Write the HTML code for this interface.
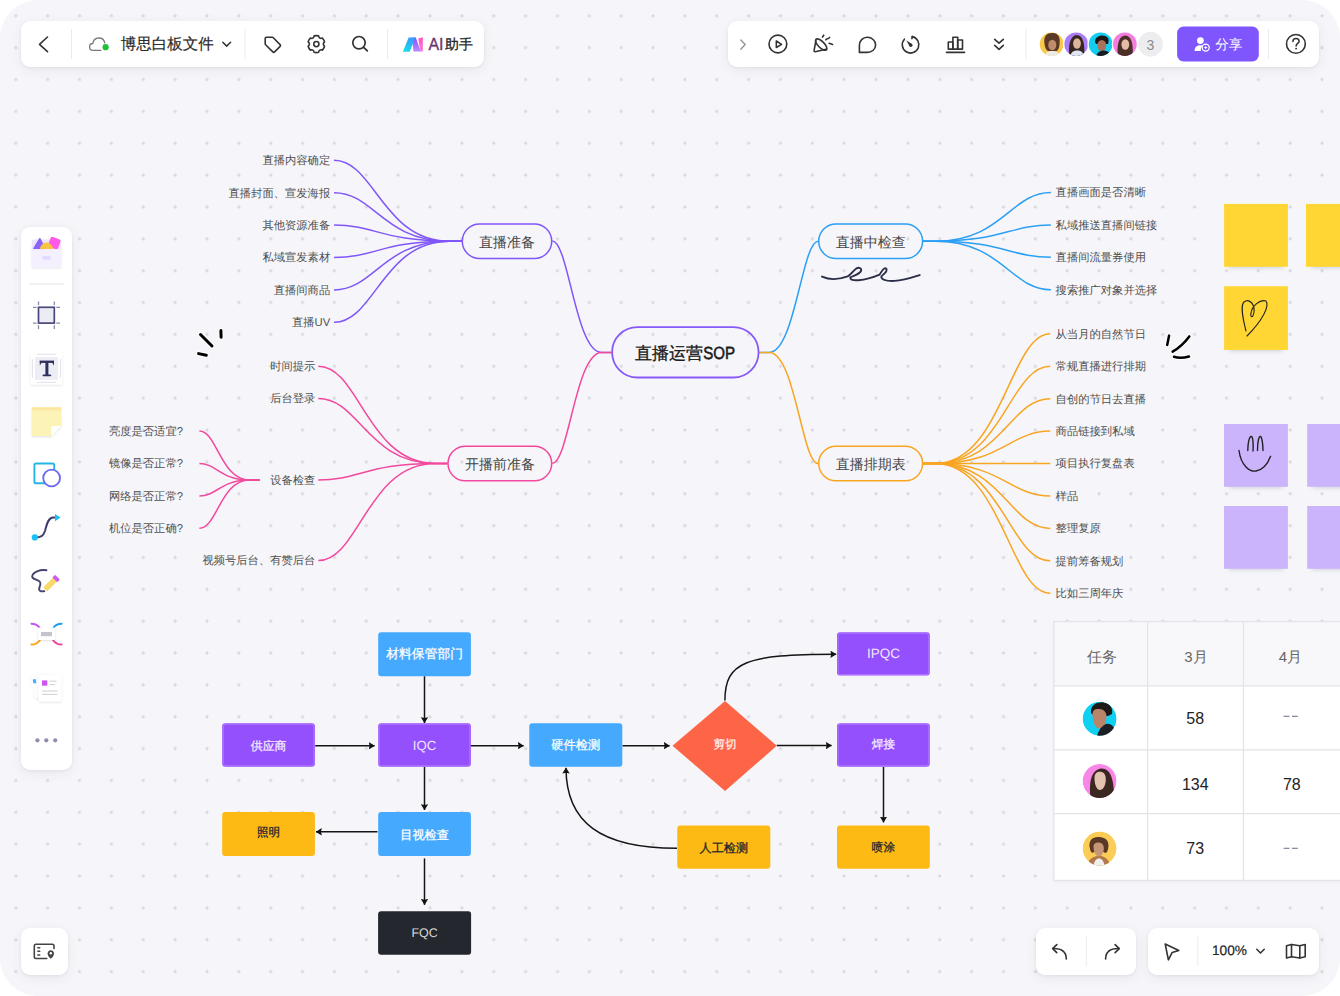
<!DOCTYPE html>
<html><head><meta charset="utf-8">
<style>
*{box-sizing:border-box;margin:0;padding:0}
html,body{width:1340px;height:996px;overflow:hidden;background:#ffffff;font-family:"Liberation Sans",sans-serif}
#win{position:absolute;left:0;top:0;width:1340px;height:996px;border-radius:38px;overflow:hidden;
 background-color:#f6f6fa;
 background-image:radial-gradient(circle at center,#d8d8dd 0,#d8d8dd 1.15px,rgba(216,216,221,0) 1.95px);
 background-size:31.87px 31.87px;background-position:-0.1px -0.1px}
.cv{position:absolute;left:0;top:0;font-family:"Liberation Sans",sans-serif}
.bar{position:absolute;background:#fff;border-radius:9px;box-shadow:0 1px 3px rgba(30,30,60,0.06),0 3px 12px rgba(30,30,60,0.07)}
.ic{position:absolute}
.dv{position:absolute;width:1px;background:#e9e9ee}
.t{position:absolute;white-space:nowrap;line-height:1}
</style></head><body>
<div id="win">
<svg class="cv" text-rendering="geometricPrecision" width="1340" height="996" viewBox="0 0 1340 996"><defs>
<marker id="ah" viewBox="0 0 6 7.4" refX="5.8" refY="3.7" markerWidth="6" markerHeight="7.4" markerUnits="userSpaceOnUse" orient="auto"><path d="M0,0 L6,3.7 L0,7.4 L0.8,3.7 Z" fill="#111"/></marker>
<filter id="sb" x="-30%" y="-100%" width="160%" height="300%"><feGaussianBlur stdDeviation="2.6"/></filter>
<filter id="sh" x="-20%" y="-20%" width="140%" height="150%"><feDropShadow dx="0" dy="3" stdDeviation="3" flood-color="#000" flood-opacity="0.10"/></filter>
</defs><path d="M461.6,241.2 L449.6,241.2 C382.6,241.2 374.5,160.3 334.0,160.3" stroke="#8056f7" stroke-width="1.5" fill="none" />
<text x="330.2" y="161.1" font-size="11.3" fill="#4f4f4f" text-anchor="end" font-weight="400" dominant-baseline="central" >直播内容确定</text>
<path d="M461.6,241.2 L449.6,241.2 C382.6,241.2 374.5,192.7 334.0,192.7" stroke="#8056f7" stroke-width="1.5" fill="none" />
<text x="330.2" y="193.5" font-size="11.3" fill="#4f4f4f" text-anchor="end" font-weight="400" dominant-baseline="central" >直播封面、宣发海报</text>
<path d="M461.6,241.2 L449.6,241.2 C382.6,241.2 374.5,225.1 334.0,225.1" stroke="#8056f7" stroke-width="1.5" fill="none" />
<text x="330.2" y="225.9" font-size="11.3" fill="#4f4f4f" text-anchor="end" font-weight="400" dominant-baseline="central" >其他资源准备</text>
<path d="M461.6,241.2 L449.6,241.2 C382.6,241.2 374.5,257.5 334.0,257.5" stroke="#8056f7" stroke-width="1.5" fill="none" />
<text x="330.2" y="258.3" font-size="11.3" fill="#4f4f4f" text-anchor="end" font-weight="400" dominant-baseline="central" >私域宣发素材</text>
<path d="M461.6,241.2 L449.6,241.2 C382.6,241.2 374.5,289.9 334.0,289.9" stroke="#8056f7" stroke-width="1.5" fill="none" />
<text x="330.2" y="290.7" font-size="11.3" fill="#4f4f4f" text-anchor="end" font-weight="400" dominant-baseline="central" >直播间商品</text>
<path d="M461.6,241.2 L449.6,241.2 C382.6,241.2 374.5,322.3 334.0,322.3" stroke="#8056f7" stroke-width="1.5" fill="none" />
<text x="330.2" y="323.1" font-size="11.3" fill="#4f4f4f" text-anchor="end" font-weight="400" dominant-baseline="central" >直播UV</text>
<path d="M447.3,463.4 L435.3,463.4 C367.4,463.4 359.2,366.2 318.3,366.2" stroke="#f2489d" stroke-width="1.5" fill="none" />
<text x="315.4" y="367.0" font-size="11.3" fill="#4f4f4f" text-anchor="end" font-weight="400" dominant-baseline="central" >时间提示</text>
<path d="M447.3,463.4 L435.3,463.4 C367.4,463.4 359.2,398.5 318.3,398.5" stroke="#f2489d" stroke-width="1.5" fill="none" />
<text x="315.4" y="399.3" font-size="11.3" fill="#4f4f4f" text-anchor="end" font-weight="400" dominant-baseline="central" >后台登录</text>
<path d="M447.3,463.4 L435.3,463.4 C367.4,463.4 359.2,480.0 318.3,480.0" stroke="#f2489d" stroke-width="1.5" fill="none" />
<text x="315.4" y="480.8" font-size="11.3" fill="#4f4f4f" text-anchor="end" font-weight="400" dominant-baseline="central" >设备检查</text>
<path d="M447.3,463.4 L435.3,463.4 C367.4,463.4 359.2,560.6 318.3,560.6" stroke="#f2489d" stroke-width="1.5" fill="none" />
<text x="315.4" y="561.4" font-size="11.3" fill="#4f4f4f" text-anchor="end" font-weight="400" dominant-baseline="central" >视频号后台、有赞后台</text>
<path d="M259.6,480.0 L249.6,480.0 C220.5,480.0 217.0,431.0 199.4,431.0" stroke="#f2489d" stroke-width="1.5" fill="none" />
<text x="183.0" y="431.8" font-size="11.3" fill="#4f4f4f" text-anchor="end" font-weight="400" dominant-baseline="central" >亮度是否适宜?</text>
<path d="M259.6,480.0 L249.6,480.0 C220.5,480.0 217.0,463.6 199.4,463.6" stroke="#f2489d" stroke-width="1.5" fill="none" />
<text x="183.0" y="464.4" font-size="11.3" fill="#4f4f4f" text-anchor="end" font-weight="400" dominant-baseline="central" >镜像是否正常?</text>
<path d="M259.6,480.0 L249.6,480.0 C220.5,480.0 217.0,496.0 199.4,496.0" stroke="#f2489d" stroke-width="1.5" fill="none" />
<text x="183.0" y="496.8" font-size="11.3" fill="#4f4f4f" text-anchor="end" font-weight="400" dominant-baseline="central" >网络是否正常?</text>
<path d="M259.6,480.0 L249.6,480.0 C220.5,480.0 217.0,528.3 199.4,528.3" stroke="#f2489d" stroke-width="1.5" fill="none" />
<text x="183.0" y="529.1" font-size="11.3" fill="#4f4f4f" text-anchor="end" font-weight="400" dominant-baseline="central" >机位是否正确?</text>
<path d="M923.3,241.2 L935.3,241.2 C1002.3,241.2 1010.4,192.5 1050.9,192.5" stroke="#2b9ff3" stroke-width="1.5" fill="none" />
<text x="1055.6" y="193.3" font-size="11.3" fill="#4f4f4f" text-anchor="start" font-weight="400" dominant-baseline="central" >直播画面是否清晰</text>
<path d="M923.3,241.2 L935.3,241.2 C1002.3,241.2 1010.4,225.0 1050.9,225.0" stroke="#2b9ff3" stroke-width="1.5" fill="none" />
<text x="1055.6" y="225.8" font-size="11.3" fill="#4f4f4f" text-anchor="start" font-weight="400" dominant-baseline="central" >私域推送直播间链接</text>
<path d="M923.3,241.2 L935.3,241.2 C1002.3,241.2 1010.4,257.3 1050.9,257.3" stroke="#2b9ff3" stroke-width="1.5" fill="none" />
<text x="1055.6" y="258.1" font-size="11.3" fill="#4f4f4f" text-anchor="start" font-weight="400" dominant-baseline="central" >直播间流量券使用</text>
<path d="M923.3,241.2 L935.3,241.2 C1002.3,241.2 1010.4,289.7 1050.9,289.7" stroke="#2b9ff3" stroke-width="1.5" fill="none" />
<text x="1055.6" y="290.5" font-size="11.3" fill="#4f4f4f" text-anchor="start" font-weight="400" dominant-baseline="central" >搜索推广对象并选择</text>
<path d="M923.3,463.6 L935.3,463.6 C1002.0,463.6 1010.0,333.8 1050.3,333.8" stroke="#f8a522" stroke-width="1.5" fill="none" />
<text x="1055.6" y="334.6" font-size="11.3" fill="#4f4f4f" text-anchor="start" font-weight="400" dominant-baseline="central" >从当月的自然节日</text>
<path d="M923.3,463.6 L935.3,463.6 C1002.0,463.6 1010.0,366.2 1050.3,366.2" stroke="#f8a522" stroke-width="1.5" fill="none" />
<text x="1055.6" y="367.0" font-size="11.3" fill="#4f4f4f" text-anchor="start" font-weight="400" dominant-baseline="central" >常规直播进行排期</text>
<path d="M923.3,463.6 L935.3,463.6 C1002.0,463.6 1010.0,398.7 1050.3,398.7" stroke="#f8a522" stroke-width="1.5" fill="none" />
<text x="1055.6" y="399.5" font-size="11.3" fill="#4f4f4f" text-anchor="start" font-weight="400" dominant-baseline="central" >自创的节日去直播</text>
<path d="M923.3,463.6 L935.3,463.6 C1002.0,463.6 1010.0,431.1 1050.3,431.1" stroke="#f8a522" stroke-width="1.5" fill="none" />
<text x="1055.6" y="431.9" font-size="11.3" fill="#4f4f4f" text-anchor="start" font-weight="400" dominant-baseline="central" >商品链接到私域</text>
<path d="M923.3,463.6 L935.3,463.6 C1002.0,463.6 1010.0,463.5 1050.3,463.5" stroke="#f8a522" stroke-width="1.5" fill="none" />
<text x="1055.6" y="464.3" font-size="11.3" fill="#4f4f4f" text-anchor="start" font-weight="400" dominant-baseline="central" >项目执行复盘表</text>
<path d="M923.3,463.6 L935.3,463.6 C1002.0,463.6 1010.0,496.0 1050.3,496.0" stroke="#f8a522" stroke-width="1.5" fill="none" />
<text x="1055.6" y="496.8" font-size="11.3" fill="#4f4f4f" text-anchor="start" font-weight="400" dominant-baseline="central" >样品</text>
<path d="M923.3,463.6 L935.3,463.6 C1002.0,463.6 1010.0,528.4 1050.3,528.4" stroke="#f8a522" stroke-width="1.5" fill="none" />
<text x="1055.6" y="529.2" font-size="11.3" fill="#4f4f4f" text-anchor="start" font-weight="400" dominant-baseline="central" >整理复原</text>
<path d="M923.3,463.6 L935.3,463.6 C1002.0,463.6 1010.0,560.8 1050.3,560.8" stroke="#f8a522" stroke-width="1.5" fill="none" />
<text x="1055.6" y="561.6" font-size="11.3" fill="#4f4f4f" text-anchor="start" font-weight="400" dominant-baseline="central" >提前筹备规划</text>
<path d="M923.3,463.6 L935.3,463.6 C1002.0,463.6 1010.0,593.2 1050.3,593.2" stroke="#f8a522" stroke-width="1.5" fill="none" />
<text x="1055.6" y="594.0" font-size="11.3" fill="#4f4f4f" text-anchor="start" font-weight="400" dominant-baseline="central" >比如三周年庆</text>
<path d="M611.5,352.4 L601.5,352.4 C575.7,352.4 568.5,241.0 552.3,241.0" stroke="#8056f7" stroke-width="1.5" fill="none" />
<path d="M611.5,352.4 L601.5,352.4 C575.7,352.4 568.5,463.4 552.3,463.4" stroke="#f2489d" stroke-width="1.5" fill="none" />
<path d="M759.2,352.4 L769.2,352.4 C794.9,352.4 802.0,241.2 818.2,241.2" stroke="#2b9ff3" stroke-width="1.5" fill="none" />
<path d="M759.2,352.4 L769.2,352.4 C794.9,352.4 802.0,463.6 818.2,463.6" stroke="#f8a522" stroke-width="1.5" fill="none" />
<rect x="462.3" y="223.9" width="89.4" height="34.6" rx="17.3" fill="none" stroke="#8056f7" stroke-width="1.5"/>
<text x="507.0" y="242.0" font-size="14" fill="#454545" text-anchor="middle" font-weight="400" dominant-baseline="central" >直播准备</text>
<rect x="448.0" y="446.2" width="103.7" height="34.6" rx="17.3" fill="none" stroke="#f2489d" stroke-width="1.5"/>
<text x="499.9" y="464.3" font-size="14" fill="#454545" text-anchor="middle" font-weight="400" dominant-baseline="central" >开播前准备</text>
<rect x="818.7" y="224.0" width="103.9" height="34.6" rx="17.3" fill="none" stroke="#2b9ff3" stroke-width="1.5"/>
<text x="870.7" y="242.1" font-size="14" fill="#454545" text-anchor="middle" font-weight="400" dominant-baseline="central" >直播中检查</text>
<rect x="818.7" y="446.2" width="103.9" height="34.6" rx="17.3" fill="none" stroke="#f8a522" stroke-width="1.5"/>
<text x="870.7" y="464.3" font-size="14" fill="#454545" text-anchor="middle" font-weight="400" dominant-baseline="central" >直播排期表</text>
<rect x="612.1" y="327.1" width="146.5" height="50.4" rx="25.2" fill="none" stroke="#8659f8" stroke-width="1.8"/>
<text x="685.4" y="353.1" font-size="17" fill="#1c1c1c" text-anchor="middle" font-weight="500" dominant-baseline="central" ></text>
<text x="634.9" y="353.0" font-size="17" font-weight="500" fill="#1c1c1c" stroke="#1c1c1c" stroke-width="0.35" dominant-baseline="central">直播运营</text>
<text x="703.2" y="353.1" font-size="17.6" font-weight="400" fill="#1c1c1c" stroke="#1c1c1c" stroke-width="0.6" dominant-baseline="central" textLength="31.8" lengthAdjust="spacingAndGlyphs">SOP</text>
<rect x="378.2" y="632.2" width="92.7" height="44" rx="3" fill="#45a9fe"/>
<text x="424.6" y="653.6" font-size="12.8" fill="#ffffff" text-anchor="middle" font-weight="400" dominant-baseline="central"  stroke="#ffffff" stroke-width="0.25">材料保管部门</text>
<rect x="222.2" y="723.2" width="92.7" height="43.6" rx="3" fill="#9550fd"/>
<rect x="223.2" y="724.2" width="90.7" height="41.6" rx="2.5" fill="none" stroke="#b684ff" stroke-width="0.8"/>
<text x="268.6" y="745.6" font-size="11.9" fill="#f3ecff" text-anchor="middle" font-weight="400" dominant-baseline="central"  stroke="#f3ecff" stroke-width="0.25">供应商</text>
<rect x="378.2" y="723.2" width="92.7" height="43.6" rx="3" fill="#9550fd"/>
<rect x="379.2" y="724.2" width="90.7" height="41.6" rx="2.5" fill="none" stroke="#b684ff" stroke-width="0.8"/>
<text x="424.6" y="745.1" font-size="13.2" fill="#efe6ff" text-anchor="middle" font-weight="400" dominant-baseline="central" >IQC</text>
<rect x="529.3" y="723.2" width="93" height="43.6" rx="3" fill="#45a9fe"/>
<text x="575.8" y="744.6" font-size="12.3" fill="#ffffff" text-anchor="middle" font-weight="400" dominant-baseline="central"  stroke="#ffffff" stroke-width="0.25">硬件检测</text>
<rect x="222.2" y="811.9" width="92.7" height="44" rx="3" fill="#fdb914"/>
<text x="268.6" y="832.7" font-size="11.5" fill="#24262e" text-anchor="middle" font-weight="400" dominant-baseline="central"  stroke="#24262e" stroke-width="0.3">照明</text>
<rect x="378.2" y="811.9" width="92.7" height="44" rx="3" fill="#45a9fe"/>
<text x="424.6" y="834.6" font-size="12.2" fill="#ffffff" text-anchor="middle" font-weight="400" dominant-baseline="central"  stroke="#ffffff" stroke-width="0.25">目视检查</text>
<rect x="378.1" y="911.2" width="93" height="43.6" rx="3" fill="#25272e"/>
<text x="424.6" y="933.0" font-size="12.5" fill="#d8d8d8" text-anchor="middle" font-weight="400" dominant-baseline="central" >FQC</text>
<rect x="837" y="632.2" width="92.8" height="43.4" rx="3" fill="#9550fd"/>
<rect x="838" y="633.2" width="90.8" height="41.4" rx="2.5" fill="none" stroke="#b684ff" stroke-width="0.8"/>
<text x="883.4" y="653.9" font-size="13.5" fill="#efe6ff" text-anchor="middle" font-weight="400" dominant-baseline="central" >IPQC</text>
<rect x="837" y="723.2" width="92.8" height="43.6" rx="3" fill="#9550fd"/>
<rect x="838" y="724.2" width="90.8" height="41.6" rx="2.5" fill="none" stroke="#b684ff" stroke-width="0.8"/>
<text x="883.4" y="744.4" font-size="11.6" fill="#f3ecff" text-anchor="middle" font-weight="400" dominant-baseline="central"  stroke="#f3ecff" stroke-width="0.25">焊接</text>
<rect x="677.3" y="825.4" width="93" height="43.4" rx="3" fill="#fdb914"/>
<text x="723.8" y="847.6" font-size="12.1" fill="#24262e" text-anchor="middle" font-weight="400" dominant-baseline="central"  stroke="#24262e" stroke-width="0.3">人工检测</text>
<rect x="837" y="825.4" width="92.8" height="43.4" rx="3" fill="#fdb914"/>
<text x="883.4" y="847.2" font-size="11.6" fill="#24262e" text-anchor="middle" font-weight="400" dominant-baseline="central"  stroke="#24262e" stroke-width="0.3">喷涂</text>
<path d="M672.5,745.7 L725,700.9 L776.8,745.7 L725,791 Z" fill="#fe6446"/>
<text x="725.0" y="744.6" font-size="11.5" fill="#fff2ee" text-anchor="middle" font-weight="400" dominant-baseline="central"  stroke="#fff2ee" stroke-width="0.25">剪切</text>
<path d="M424.5,676.3 L424.5,723.0" stroke="#141414" stroke-width="1.5" fill="none" marker-end="url(#ah)"/>
<path d="M315.2,745.8 L374.6,745.8" stroke="#141414" stroke-width="1.5" fill="none" marker-end="url(#ah)"/>
<path d="M470.9,745.7 L523.6,745.7" stroke="#141414" stroke-width="1.5" fill="none" marker-end="url(#ah)"/>
<path d="M424.5,767.0 L424.5,810.0" stroke="#141414" stroke-width="1.5" fill="none" marker-end="url(#ah)"/>
<path d="M377.5,831.8 L316.0,831.8" stroke="#141414" stroke-width="1.5" fill="none" marker-end="url(#ah)"/>
<path d="M424.5,858.4 L424.5,904.8" stroke="#141414" stroke-width="1.5" fill="none" marker-end="url(#ah)"/>
<path d="M622.6,745.7 L669.6,745.7" stroke="#141414" stroke-width="1.5" fill="none" marker-end="url(#ah)"/>
<path d="M776.8,745.6 L831.6,745.6" stroke="#141414" stroke-width="1.5" fill="none" marker-end="url(#ah)"/>
<path d="M883.5,767.0 L883.5,822.4" stroke="#141414" stroke-width="1.5" fill="none" marker-end="url(#ah)"/>
<path d="M724.9,700.5 C724.9,662 745,654.3 836.2,654.3" stroke="#141414" stroke-width="1.5" fill="none" marker-end="url(#ah)"/>
<path d="M677,848.3 C600,848.3 566,822 566,767.8" stroke="#141414" stroke-width="1.5" fill="none" marker-end="url(#ah)"/>
<rect x="1229.1" y="258.8" width="53.8" height="9" fill="#50507a" opacity="0.24" filter="url(#sb)"/>
<rect x="1224.1" y="203.9" width="63.8" height="62.9" fill="#ffd633"/>
<rect x="1311" y="258.8" width="54" height="9" fill="#50507a" opacity="0.24" filter="url(#sb)"/>
<rect x="1306" y="203.9" width="64" height="62.9" fill="#ffd633"/>
<rect x="1229.1" y="342.0" width="53.8" height="9" fill="#50507a" opacity="0.24" filter="url(#sb)"/>
<rect x="1224.1" y="286.2" width="63.8" height="63.8" fill="#ffd633"/>
<rect x="1229" y="478.8" width="53.9" height="9" fill="#50507a" opacity="0.24" filter="url(#sb)"/>
<rect x="1224" y="424" width="63.9" height="62.8" fill="#cbb4fc"/>
<rect x="1312.2" y="478.8" width="54" height="9" fill="#50507a" opacity="0.24" filter="url(#sb)"/>
<rect x="1307.2" y="424" width="64" height="62.8" fill="#cbb4fc"/>
<rect x="1229" y="560.8" width="53.9" height="9" fill="#50507a" opacity="0.24" filter="url(#sb)"/>
<rect x="1224" y="506" width="63.9" height="62.8" fill="#cbb4fc"/>
<rect x="1312.2" y="560.8" width="54" height="9" fill="#50507a" opacity="0.24" filter="url(#sb)"/>
<rect x="1307.2" y="506" width="64" height="62.8" fill="#cbb4fc"/>
<path transform="translate(0,1)" d="M1246,330 C1243,318 1240,305 1244,301 C1249,297 1255,303 1254,311 C1253,318 1250,316 1251,312 C1252,305 1260,298 1266,300 C1270,305 1262,320 1247,335" stroke="#222" stroke-width="1.1" fill="none" stroke-linecap="round"/>
<path d="M1247.8,450.5 C1248,440 1250,436 1251.5,436.5 C1253,437 1253.5,445 1253,451 M1257.5,450.5 C1257.5,441 1259,436 1260.5,436.5 C1262,437 1263,445 1263,450.5 M1239,450.5 C1241,466 1250,472 1256,471 C1263,470 1268,463 1270.6,456.3" stroke="#222" stroke-width="1.4" fill="none" stroke-linecap="round"/>
<path d="M822,276.6 C828,279.3 837,280.3 847.6,276.4 C851,274.8 853,270.8 856,268.7 C858.6,266.9 862.2,268 861,271 C859.4,274.4 853.2,275.6 850.4,277.3 C849.8,280 853.5,280.6 858.5,280.2 C866,279.6 873,277.4 879.6,274.6 C881.5,271.8 882.6,269 884.6,268.3 C886.6,267.7 887.2,270 885.9,271.9 C884.2,274.4 881.2,275.6 881.2,277.2 C882.2,280 887.5,281.2 894.5,280.9 C903.5,280.6 912,277.6 919.7,275.1" stroke="#2b2e48" stroke-width="1.9" fill="none" stroke-linecap="round" stroke-linejoin="round"/>
<g stroke="#fff" stroke-width="5" stroke-linecap="round" fill="none"><path d="M200.5,334.5 L212,346"/><path d="M220.9,330.6 L221.1,337.3"/><path d="M198.6,353.6 L206.3,355.3"/></g>
<g stroke="#000" stroke-width="3" stroke-linecap="round" fill="none"><path d="M200.5,334.5 L212,346"/><path d="M220.9,330.6 L221.1,337.3"/><path d="M198.6,353.6 L206.3,355.3"/></g>
<g stroke="#fff" stroke-width="4.4" stroke-linecap="round" fill="none"><path d="M1169.1,335.6 L1167.2,344.9"/><path d="M1189.3,336.4 C1184,343.5 1178,348.5 1172.6,351.6"/><path d="M1174,356.8 C1179,358.5 1184,358 1189,356.5"/></g>
<g stroke="#000" stroke-width="2.5" stroke-linecap="round" fill="none"><path d="M1169.1,335.6 L1167.2,344.9"/><path d="M1189.3,336.4 C1184,343.5 1178,348.5 1172.6,351.6"/><path d="M1174,356.8 C1179,358.5 1184,358 1189,356.5"/></g></svg>

<!-- top-left toolbar -->
<div class="bar" style="left:21px;top:21px;width:463px;height:46px"></div>
<svg class="ic" style="left:0;top:0" width="500" height="80" viewBox="0 0 500 80">
 <g fill="none" stroke="#333" stroke-width="1.6" stroke-linecap="round" stroke-linejoin="round">
  <path d="M47.5,37 L39.5,44.3 L47.5,51.6"/>
 </g>
 <rect x="71" y="29" width="1" height="30" fill="#ebebef"/>
 <path d="M95.5,50.3 L93,50.3 C90.8,50.3 89.6,48.6 89.6,46.9 C89.6,45 91,43.6 92.8,43.5 C93.3,40.2 95.8,38 98.9,38 C101.8,38 104.2,40 104.8,42.8" fill="none" stroke="#7a7a7a" stroke-width="1.3" stroke-linecap="round"/>
 <path d="M95.5,50.3 L101,50.3" fill="none" stroke="#7a7a7a" stroke-width="1.3" stroke-linecap="round"/>
 <circle cx="105.6" cy="47.2" r="3.1" fill="#1fbf3c"/>
 <text x="120.7" y="44.1" font-size="15.5" fill="#2b2b2b" stroke="#2b2b2b" stroke-width="0.2" text-rendering="geometricPrecision" dominant-baseline="central" font-family="Liberation Sans, sans-serif">博思白板文件</text>
 <path d="M222.8,42.3 L226.7,46.1 L230.6,42.3" fill="none" stroke="#333" stroke-width="1.5" stroke-linecap="round" stroke-linejoin="round"/>
 <rect x="244.5" y="29" width="1" height="30" fill="#ebebef"/>
 <!-- tag -->
 <path d="M265.2,38.6 C265.2,37.9 265.8,37.3 266.5,37.3 L272.2,37.3 C272.6,37.3 273,37.5 273.3,37.8 L280.1,44.6 C280.6,45.1 280.6,45.9 280.1,46.4 L274.6,51.9 C274.1,52.4 273.3,52.4 272.8,51.9 L265.6,44.7 C265.4,44.5 265.2,44.1 265.2,43.8 Z" fill="none" stroke="#333" stroke-width="1.6" stroke-linejoin="round"/>
 <!-- gear -->
 <path d="M314.15,35.89 A8.5,8.5 0 0 1 318.55,35.89 Q319.20,39.16 322.36,38.09 A8.5,8.5 0 0 1 324.56,41.90 Q322.05,44.10 324.56,46.30 A8.5,8.5 0 0 1 322.36,50.11 Q319.20,49.04 318.55,52.31 A8.5,8.5 0 0 1 314.15,52.31 Q313.50,49.04 310.34,50.11 A8.5,8.5 0 0 1 308.14,46.30 Q310.65,44.10 308.14,41.90 A8.5,8.5 0 0 1 310.34,38.09 Q313.50,39.16 314.15,35.89 Z" fill="none" stroke="#333" stroke-width="1.6" stroke-linejoin="round"/>
 <circle cx="316.35" cy="44.1" r="2.6" fill="none" stroke="#333" stroke-width="1.6"/>
 <!-- search -->
 <circle cx="359" cy="42.7" r="6.2" fill="none" stroke="#333" stroke-width="1.7"/>
 <path d="M363.6,47.4 L367.3,50.9" stroke="#333" stroke-width="1.8" stroke-linecap="round"/>
 <rect x="387" y="29" width="1" height="30" fill="#ebebef"/>
 <!-- AI logo -->
 <defs>
  <linearGradient id="ai1" x1="0" y1="1" x2="1" y2="0"><stop offset="0" stop-color="#20d4f5"/><stop offset="0.5" stop-color="#3d8cff"/><stop offset="1" stop-color="#7a55ff"/></linearGradient>
  <linearGradient id="ai2" x1="0" y1="0" x2="1" y2="1"><stop offset="0" stop-color="#b56bff"/><stop offset="1" stop-color="#ff4fd0"/></linearGradient>
 </defs>
 <defs>
  <linearGradient id="aic" x1="0" y1="1" x2="0.4" y2="0"><stop offset="0" stop-color="#0ee6e0"/><stop offset="1" stop-color="#3a9cff"/></linearGradient>
  <linearGradient id="aip" x1="0" y1="0" x2="0" y2="1"><stop offset="0" stop-color="#8a4dff"/><stop offset="1" stop-color="#b98cff"/></linearGradient>
  <linearGradient id="aik" x1="0" y1="0" x2="0" y2="1"><stop offset="0" stop-color="#ff4fc8"/><stop offset="1" stop-color="#ff7ad0"/></linearGradient>
 </defs>
 <path d="M418.3,38.6 L422.8,37.3 L422.8,51.5 L420.4,51.5 Z" fill="url(#aik)"/>
 <path d="M412.2,37.4 L415.8,37.4 L420.8,51.5 L413.4,51.5 Z" fill="url(#aip)"/>
 <path d="M402.9,51.7 L409.6,51.7 L415.5,37.4 L408.6,37.4 Z" fill="url(#aic)"/>
 <text x="428.4" y="44.8" font-size="15.9" font-weight="400" fill="#6a3670" stroke="#6a3670" stroke-width="0.35" dominant-baseline="central" font-family="Liberation Sans, sans-serif">AI</text>
 <text x="445" y="44.4" font-size="13.9" font-weight="400" fill="#1f1f1f" stroke="#1f1f1f" stroke-width="0.3" text-rendering="geometricPrecision" dominant-baseline="central" font-family="Liberation Sans, sans-serif">助手</text>
</svg>

<!-- top-right toolbar -->
<div class="bar" style="left:728px;top:21px;width:591px;height:46px"></div>
<svg class="ic" style="left:700px;top:0" width="640" height="80" viewBox="700 0 640 80">
 <path d="M740.8,40 L745.2,44.6 L740.8,49.2" fill="none" stroke="#999" stroke-width="1.5" stroke-linecap="round" stroke-linejoin="round"/>
 <g fill="none" stroke="#333" stroke-width="1.6" stroke-linecap="round" stroke-linejoin="round">
  <circle cx="777.9" cy="44" r="8.9"/>
  <path d="M776.3,41 L776.3,47.5 L781.6,44.3 Z" stroke-width="1.5"/>
  <!-- party popper -->
  <path d="M815.9,40.3 L814.1,50.6 C814,51.4 814.6,51.9 815.3,51.7 L826,49.3"/>
  <ellipse cx="821.2" cy="44.6" rx="7.4" ry="3.1" transform="rotate(45 821.2 44.6)"/>
  <path d="M822.5,37.1 L823.7,35.2"/>
  <path d="M825.9,39.8 C826.8,38.4 828.5,39.3 829.6,37.4"/>
  <path d="M829.2,43.2 L832.6,44.4"/>
  <!-- bubble -->
  <path d="M867.2,37.3 C871.9,37.3 875.6,40.7 875.6,44.9 C875.6,49.1 871.9,52.4 867.2,52.4 L859.4,52.4 L859.4,45.3 C859.4,40.8 862.8,37.3 867.2,37.3 Z"/>
  <!-- timer -->
  <path d="M912.2,36.6 A8.3,8.3 0 1 1 904.4,39.2"/>
  <path d="M912.2,36.6 L911.9,38.6"/>
  </g><path d="M906.2,40.2 L911.9,44.1 L909.6,46.3 Z" fill="#333"/><circle cx="910.8" cy="45.3" r="1.7" fill="#333"/>
 <g fill="none" stroke="#333" stroke-width="1.6" stroke-linecap="round" stroke-linejoin="round">
 <!-- bar chart -->
  <path d="M946.5,52.4 L964.6,52.4"/>
  <rect x="948.3" y="42" width="4.6" height="7.1"/>
  <rect x="952.9" y="37.3" width="4.8" height="11.8"/>
  <rect x="957.7" y="40" width="4.8" height="9.1"/>
  <!-- double chevron -->
  <path d="M994.7,39.3 L999,43.2 L1003.3,39.3"/>
  <path d="M994.7,45.4 L999,49.3 L1003.3,45.4"/>
 </g>
 <rect x="1025.5" y="29" width="1" height="30" fill="#ebebef"/>
 <!-- avatars -->
 <defs>
  <clipPath id="ca1"><circle cx="1051.6" cy="44.2" r="11.8"/></clipPath>
  <clipPath id="ca2"><circle cx="1076.2" cy="44.2" r="11.8"/></clipPath>
  <clipPath id="ca3"><circle cx="1100.6" cy="44.2" r="11.8"/></clipPath>
  <clipPath id="ca4"><circle cx="1124.9" cy="44.2" r="11.8"/></clipPath>
 </defs>
<circle cx="1051.6" cy="44.2" r="11.8" fill="#f8c94c"/>
 <g clip-path="url(#ca1)">
  <path d="M1044.5,44 C1043,35 1048,32.5 1053,33 C1059,33.5 1060.5,38 1059.5,45 C1059,49 1057.5,51 1056,51 L1048,51 C1046,50 1045,47.5 1044.5,44Z" fill="#5a3a26"/>
  <ellipse cx="1052.3" cy="45" rx="4" ry="5.2" fill="#c08c6c"/>
  <path d="M1043,58 C1045,52 1049,51 1052,51 C1056,51 1059,52 1061,58Z" fill="#ecebea"/></g>
 <circle cx="1076.2" cy="44.2" r="13.1" fill="#fff"/>
 <circle cx="1076.2" cy="44.2" r="11.8" fill="#ab7cf5"/>
 <g clip-path="url(#ca2)">
  <path d="M1069.5,56 C1068,47 1069.5,36 1076.5,35 C1083.5,35 1085,45 1084,56Z" fill="#35261f"/>
  <ellipse cx="1077" cy="43.5" rx="3.9" ry="5.2" fill="#dcb39c"/>
  <path d="M1069,58 C1071,52 1074,50.5 1077,50.5 C1081,50.5 1083,52 1085,58Z" fill="#dfe6f2"/></g>
 <circle cx="1100.6" cy="44.2" r="13.1" fill="#fff"/>
 <circle cx="1100.6" cy="44.2" r="11.8" fill="#12cdf0"/>
 <g clip-path="url(#ca3)">
  <path d="M1095,42 C1094.5,35 1105,33.5 1108,38 C1109,40 1108.5,42 1108,44 L1096,44Z" fill="#1b1816"/>
  <ellipse cx="1101.8" cy="45.5" rx="4.4" ry="5.6" fill="#a8735a"/>
  <path d="M1095,58 C1097,52 1101,50.5 1104,50.5 C1108,51 1111,53 1112,58Z" fill="#1c1c20"/></g>
 <circle cx="1124.9" cy="44.2" r="13.1" fill="#fff"/>
 <circle cx="1124.9" cy="44.2" r="11.8" fill="#f47ee0"/>
 <g clip-path="url(#ca4)">
  <path d="M1118,57 C1116.5,46 1118.5,36 1125,35.5 C1132,35.5 1133.5,46 1132.5,57Z" fill="#4a3026"/>
  <ellipse cx="1125.3" cy="44.5" rx="3.9" ry="5.2" fill="#e4bca8"/></g>
 <circle cx="1150.5" cy="44.2" r="13.1" fill="#fff"/>
 <circle cx="1150.5" cy="44.2" r="12.4" fill="#ededf0"/>
 <text x="1150.5" y="44.7" font-size="14" fill="#8a8a8a" text-anchor="middle" dominant-baseline="central" font-family="Liberation Sans, sans-serif">3</text>
 <!-- share -->
 <rect x="1177.1" y="26.5" width="81.7" height="35" rx="6.5" fill="#7f55fd"/>
 <g fill="#fff">
  <circle cx="1200.4" cy="40.6" r="3.4"/>
  <path d="M1194.6,50.9 C1194.6,47.2 1196.9,45.2 1200.4,45.2 C1201.4,45.2 1202.3,45.4 1203,45.7 C1201.6,46.5 1200.8,48 1200.8,49.6 C1200.8,50.1 1200.9,50.5 1201,50.9 Z"/>
 </g>
 <circle cx="1205.7" cy="47.6" r="3.5" fill="#7f55fd" stroke="#fff" stroke-width="1.3"/>
 <path d="M1205.7,45.6 L1206.3,47 L1207.7,47.6 L1206.3,48.2 L1205.7,49.6 L1205.1,48.2 L1203.7,47.6 L1205.1,47 Z" fill="#fff"/>
 <text x="1215.2" y="44" font-size="13.6" fill="#fff" dominant-baseline="central" font-family="Liberation Sans, sans-serif" text-rendering="geometricPrecision">分享</text>
 <rect x="1268" y="29" width="1" height="30" fill="#ebebef"/>
 <circle cx="1295.9" cy="43.9" r="9.4" fill="none" stroke="#333" stroke-width="1.6"/>
 <path d="M1292.9,41.5 C1292.9,39.6 1294.3,38.4 1296,38.4 C1297.8,38.4 1299.1,39.6 1299.1,41.2 C1299.1,43.3 1296.1,43.6 1296.1,46" fill="none" stroke="#333" stroke-width="1.5" stroke-linecap="round"/>
 <circle cx="1296.1" cy="48.6" r="0.95" fill="#333"/>
</svg>

<!-- left sidebar -->
<div class="bar" style="left:21px;top:227px;width:51px;height:543px"></div>
<svg class="ic" style="left:0;top:220px" width="90" height="560" viewBox="0 220 90 560">
 <!-- template icon -->
 <rect x="31.8" y="239.6" width="29.3" height="27.7" rx="2.6" fill="#ebe5ff" filter="url(#ish)"/>
 <path d="M39.8,238.6 L33.8,248.6 L45,248.6 Z" fill="#8a63f8" stroke="#8a63f8" stroke-width="1.4" stroke-linejoin="round"/>
 <rect x="49" y="237.8" width="10.6" height="10.6" rx="2" fill="#ff5ae6" transform="rotate(20 54.3 243.1)"/>
 <path d="M40.1,249 A6.4,6.4 0 0 1 52.9,249 Z" fill="#f8c540"/>
 <path d="M31.8,249.3 L61.1,249.3 L61.1,264.7 Q61.1,267.3 58.5,267.3 L34.4,267.3 Q31.8,267.3 31.8,264.7 Z" fill="#f4f0ff"/>
 <rect x="42.3" y="256.1" width="8.4" height="3.6" fill="#e3daff"/>
 <rect x="29" y="283.5" width="35" height="1" fill="#e6e6ec"/>
 <!-- frame -->
 <rect x="38.5" y="307.3" width="15.8" height="15.8" fill="#ececf4" stroke="#48487a" stroke-width="1.7"/>
 <g stroke="#8a8aa8" stroke-width="1.3">
  <path d="M33,307.3 L36.5,307.3 M33,323.1 L36.5,323.1 M56.3,307.3 L60,307.3 M56.3,323.1 L60,323.1"/>
  <path d="M38.5,301.5 L38.5,305 M54.3,301.5 L54.3,305 M38.5,325.3 L38.5,329 M54.3,325.3 L54.3,329"/>
 </g>
 <!-- text -->
 <rect x="30.6" y="352.2" width="31.6" height="32.3" rx="1" fill="#fff" filter="url(#ish)"/>
 <path d="M37,354.3 L56,354.3 M37,382.4 L56,382.4 M32.4,359 L32.4,378 M60.4,359 L60.4,378" stroke="#d9d9e2" stroke-width="0.8"/>
 <rect x="35" y="357.1" width="23" height="22.8" fill="#ededf6"/>
 <g fill="#2f2f5c">
  <rect x="39.8" y="360.6" width="14.2" height="2.3"/>
  <path d="M39.8,360.6 L39.8,365.6 L41.8,362.6 Z M54,360.6 L54,365.6 L52,362.6 Z"/>
  <rect x="45.4" y="362" width="3" height="13.2"/>
  <rect x="42.6" y="374.5" width="8.6" height="1.7" rx="0.8"/>
 </g>
 <!-- sticky -->
 <g filter="url(#ish)">
 <path d="M32,407.3 L61,407.3 L61,426 L51.3,436 L32,436 Z" fill="#fcf3b7"/>
 </g>
 <rect x="32" y="407.3" width="29" height="3" fill="#fbe7a0"/>
 <path d="M51.3,436 L51.3,426 L61,426 Z" fill="#ffffff"/>
 <!-- shape -->
 <rect x="34.4" y="463.5" width="19.8" height="19.8" rx="1.6" fill="#fff" stroke="#24b7e4" stroke-width="1.9"/>
 <circle cx="51.6" cy="478" r="8.4" fill="#fff" stroke="#6c6cf6" stroke-width="1.9"/>
 <!-- connector -->
 <path d="M35,537.4 C41,537.4 43.3,536 45,531 C46.5,526 47.5,518 53,517.6 L56,517.6" fill="none" stroke="#3f3f6e" stroke-width="2" stroke-linecap="round"/>
 <circle cx="34.8" cy="537.4" r="3.1" fill="#16c1f3"/>
 <path d="M55,514 L60.5,517.6 L55,521.2 Z" fill="#16c1f3"/>
 <!-- pen -->
 <path d="M46.5,570.2 C40,569.2 32.5,572 32.2,576.5 C32,579.5 38,579.5 40,582 C42,585 37,589 40,590.8 C41.5,591.6 43,591.5 44.5,591" fill="none" stroke="#44446e" stroke-width="1.9" stroke-linecap="round"/>
 <g transform="rotate(-45 50.6 584)">
  <rect x="42.3" y="580.6" width="17.5" height="6.8" rx="1.5" fill="#f9d86c" stroke="#fff" stroke-width="1"/>
  <rect x="56.5" y="580.6" width="3.8" height="6.8" rx="1" fill="#cf5cf2"/>
 </g>
 <!-- mindmap -->
 <path d="M31.4,623.8 C35.6,623.8 38.2,625.6 40,628.4" fill="none" stroke="#c456f2" stroke-width="1.9" stroke-linecap="round"/>
 <path d="M61.6,623.8 C57.4,623.8 54.8,625.6 53,628.4" fill="none" stroke="#1f9cf3" stroke-width="1.9" stroke-linecap="round"/>
 <path d="M31.4,644.5 C35.6,644.5 38.2,642.7 40,639.9" fill="none" stroke="#f8aa1e" stroke-width="1.9" stroke-linecap="round"/>
 <path d="M61.6,644.5 C57.4,644.5 54.8,642.7 53,639.9" fill="none" stroke="#f2439c" stroke-width="1.9" stroke-linecap="round"/>
 <rect x="38" y="627.4" width="17" height="12.6" rx="1.2" fill="#fff" filter="url(#ish)"/>
 <rect x="41" y="632" width="11" height="4.2" fill="#c4c4cc"/>
 <!-- doc -->
 <rect x="32.5" y="673" width="17" height="24" rx="1.5" fill="#fdfdfe" transform="rotate(-12 41 685)" filter="url(#ish)"/>
 <rect x="34" y="678" width="3" height="4" fill="#45a9fe" transform="rotate(-12 41 685)"/>
 <rect x="38.5" y="675" width="22.8" height="26.5" rx="1.5" fill="#fff" filter="url(#ish)"/>
 <rect x="42" y="680.4" width="5.3" height="5.3" fill="#cc55ef"/>
 <path d="M49.5,681.2 L56.5,681.2 M49.5,684.6 L55,684.6 M42,691 L57.5,691 M42,694.4 L57.5,694.4" stroke="#c9c9cf" stroke-width="0.9"/>
 <!-- more -->
 <circle cx="37.4" cy="740.3" r="2.1" fill="#8d8dac"/>
 <circle cx="46.3" cy="740.3" r="2.1" fill="#8d8dac"/>
 <circle cx="55.2" cy="740.3" r="2.1" fill="#8d8dac"/>
 <defs><filter id="ish" x="-30%" y="-30%" width="160%" height="170%"><feDropShadow dx="0" dy="1" stdDeviation="1.2" flood-color="#000" flood-opacity="0.12"/></filter></defs>
</svg>

<!-- bottom-left -->
<div class="bar" style="left:21px;top:928px;width:46.6px;height:47px"></div>
<svg class="ic" style="left:0;top:900px" width="90" height="96" viewBox="0 900 90 96">
 <path d="M46.8,958.5 L36,958.5 C35,958.5 34.3,957.8 34.3,956.8 L34.3,946 C34.3,945 35,944.3 36,944.3 L52.3,944.3 C53.3,944.3 54,945 54,946 L54,948.6" fill="none" stroke="#444" stroke-width="1.6" stroke-linecap="round"/>
 <path d="M37.8,947.7 L39.8,947.7 M37.8,951.3 L39.8,951.3 M37.8,955 L39.8,955" stroke="#444" stroke-width="1.4" stroke-linecap="round"/>
 <path d="M50.8,958.8 C48.8,956.8 47.6,955.3 47.6,953.4 C47.6,951.6 49,950.2 50.8,950.2 C52.6,950.2 54,951.6 54,953.4 C54,955.3 52.8,956.8 50.8,958.8 Z" fill="#444"/>
 <circle cx="50.8" cy="953.3" r="1.2" fill="#fff"/>
</svg>

<!-- bottom-right -->
<div class="bar" style="left:1036px;top:928px;width:100px;height:47px"></div>
<div class="bar" style="left:1147.5px;top:928px;width:171.5px;height:47px"></div>
<svg class="ic" style="left:1030px;top:920px" width="310" height="76" viewBox="1030 920 310 76">
 <g fill="none" stroke="#333" stroke-width="1.6" stroke-linecap="round" stroke-linejoin="round">
  <path d="M1066.3,959 C1066.3,952 1062.5,948.5 1053.5,948.5"/>
  <path d="M1056.8,944.6 L1052.6,948.6 L1056.8,952.6"/>
  <path d="M1105.6,959 C1105.6,952 1109.4,948.5 1118.4,948.5"/>
  <path d="M1115.1,944.6 L1119.3,948.6 L1115.1,952.6"/>
  <path d="M1165.2,944 L1178.8,950.5 L1172.2,952.4 L1168.4,959.8 Z"/>
  <path d="M1256.8,949.3 L1260.5,953 L1264.2,949.3"/>
  <path d="M1286.5,945.8 L1291.5,944.5 L1299.8,945.8 L1305.2,944.5 L1305.2,956.8 L1299.8,958 L1291.5,956.8 L1286.5,958 Z"/>
  <path d="M1291.5,944.5 L1291.5,956.8 M1299.8,945.8 L1299.8,958"/>
 </g>
 <rect x="1085.8" y="936.5" width="1" height="30" fill="#ebebef"/>
 <rect x="1197.3" y="936.5" width="1" height="30" fill="#ebebef"/>
 <text x="1212" y="950.9" font-size="13.7" fill="#262626" stroke="#262626" stroke-width="0.2" text-rendering="geometricPrecision" dominant-baseline="central" font-family="Liberation Sans, sans-serif">100%</text>
</svg>

<!-- table -->
<div style="position:absolute;left:1053.5px;top:621px;width:300px;height:260px;background:#fff;box-shadow:0 1px 3px rgba(0,0,0,0.05)"></div>
<svg class="ic" style="left:1040px;top:610px" width="300" height="280" viewBox="1040 610 300 280">
 <rect x="1053.5" y="621.2" width="300" height="64.7" fill="#f8f8fa"/>
 <g stroke="#e3e3e9" stroke-width="1.2" fill="none">
  <rect x="1053.9" y="621.6" width="300" height="258.8"/>
  <path d="M1053.9,685.9 L1340,685.9 M1053.9,749.8 L1340,749.8 M1053.9,813.6 L1340,813.6 M1147.6,621.6 L1147.6,880.4 M1243.5,621.6 L1243.5,880.4"/>
 </g>
 <g font-family="Liberation Sans, sans-serif" dominant-baseline="central" text-anchor="middle">
  <text x="1101.8" y="656.4" font-size="15" fill="#666">任务</text>
  <text x="1196" y="656.4" font-size="15" fill="#666">3月</text>
  <text x="1290.3" y="656.4" font-size="15" fill="#666">4月</text>
  <text x="1195.2" y="718.6" font-size="16" fill="#222">58</text>
  
  <text x="1195.3" y="784.6" font-size="16" fill="#222">134</text>
  <text x="1291.8" y="784.6" font-size="16" fill="#222">78</text>
  <text x="1195.2" y="848.6" font-size="16" fill="#222">73</text>
  
 </g>
 <g fill="#8c8c9c"><rect x="1283.6" y="715.7" width="5.8" height="1.3"/><rect x="1292" y="715.7" width="5.8" height="1.3"/><rect x="1283.6" y="847.7" width="5.8" height="1.3"/><rect x="1292" y="847.7" width="5.8" height="1.3"/></g>
 <defs>
  <clipPath id="tb1"><circle cx="1099.6" cy="718.7" r="17"/></clipPath>
  <clipPath id="tb2"><circle cx="1099.6" cy="781" r="17"/></clipPath>
  <clipPath id="tb3"><circle cx="1099.6" cy="848.5" r="17"/></clipPath>
 </defs>
 <g clip-path="url(#tb1)"><circle cx="1099.6" cy="718.7" r="17" fill="#10d0f4"/>
  <path d="M1091,713 C1090,705 1097,701.5 1104,702.5 C1110,703.5 1113,708 1112,714 L1108,716 L1093,715Z" fill="#1f1a18"/>
  <path d="M1092.5,714 C1092.5,709.5 1096,708.5 1099.5,709 C1104,709.5 1107,712 1106.5,718 C1106,724 1103,728.5 1099,728.5 C1095,728 1092.5,722 1092.5,714Z" fill="#b8846a"/>
  <path d="M1097,737 C1098,730 1102,726 1106,724 C1110,723 1113,725 1115,730 L1116,737Z" fill="#1d1f24"/></g>
 <g clip-path="url(#tb2)"><circle cx="1099.6" cy="781" r="17" fill="#f886e6"/>
  <path d="M1090.5,798 C1089,785 1090,770 1101,768.5 C1111,768 1114,780 1114,798Z" fill="#3b2620"/>
  <path d="M1094.5,778 C1094.5,773 1097.5,771.5 1100.5,771.8 C1104,772 1106,775 1105.8,780 C1105.5,786 1103,790 1100,790 C1096.5,790 1094.5,784 1094.5,778Z" fill="#e4c2b2"/></g>
 <g clip-path="url(#tb3)"><circle cx="1099.6" cy="848.5" r="17" fill="#fbcd57"/>
  <path d="M1086,868 C1088,859 1093,856 1099,856 C1105,856 1109,859 1111,868Z" fill="#b07a4c"/>
  <path d="M1093,868 C1094,861 1096,858.5 1099,858.5 C1102,858.5 1104,861 1105,868Z" fill="#f2f0ee"/>
  <path d="M1089.8,848 C1088,840 1093,836.5 1099,837 C1106,837.5 1109.5,841 1108.3,848 C1107.5,853 1105,854 1104,852 L1094,852 C1092,854 1090.5,852 1089.8,848Z" fill="#5a3826"/>
  <path d="M1093.5,847 C1093.5,843.5 1096,842.5 1098.8,842.6 C1102,842.8 1104,845 1103.8,849 C1103.5,853.5 1101.5,856.4 1098.8,856.4 C1096,856.4 1093.5,852 1093.5,847Z" fill="#c69676"/></g>
</svg>

</div>
</body></html>
